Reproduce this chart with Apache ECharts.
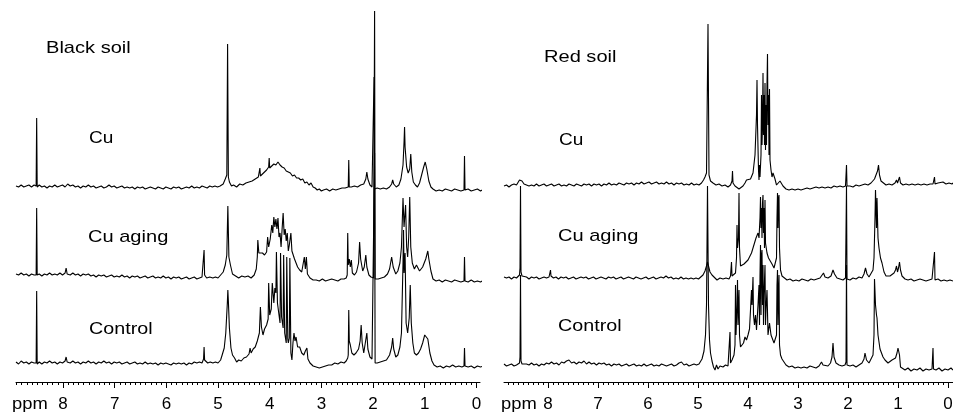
<!DOCTYPE html>
<html>
<head>
<meta charset="utf-8">
<script src="https://cdn.jsdelivr.net/npm/echarts@6/dist/echarts.min.js"></script>
<style>
  html, body { margin: 0; padding: 0; background: #fff; }
  #nmr { width: 953px; height: 416px; }
</style>
</head>
<body>
<div id="nmr"></div>
<script>
// tick labels (ppm)
const majorTicks = [0, 1, 2, 3, 4, 5, 6, 7, 8];

// spectra: [ppm, height above own baseline]
// Black soil
const blackCu = [
  [8.91,1],[8.86,0],[8.81,2],[8.76,0],[8.71,1],[8.66,2],[8.61,0],[8.56,2],[8.52,1],[8.51,69],[8.50,0],[8.46,2],[8.41,0],[8.36,1],[8.31,-1],[8.26,1],[8.21,0],[8.16,2],[8.11,0],[8.06,1],[8.01,2],[7.96,0],[7.91,3],[7.86,1],[7.81,2],[7.76,0],[7.71,1],[7.66,-1],[7.61,1],[7.56,0],[7.51,2],[7.46,0],[7.41,1],[7.36,-1],[7.31,0],[7.26,1],[7.21,-1],[7.16,0],[7.11,2],[7.06,0],[7.01,1],[6.96,-1],[6.91,0],[6.86,1],[6.81,-1],[6.76,0],[6.71,-1],[6.66,0],[6.61,-2],[6.56,0],[6.51,-1],[6.46,0],[6.41,-2],[6.36,-1],[6.31,0],[6.26,-1],[6.21,-2],[6.16,0],[6.11,-1],[6.06,-2],[6.01,0],[5.96,-1],[5.91,-2],[5.86,0],[5.81,-1],[5.76,0],[5.71,-2],[5.66,-1],[5.61,0],[5.56,-1],[5.51,1],[5.46,-1],[5.41,0],[5.36,-1],[5.31,1],[5.26,0],[5.21,-1],[5.16,1],[5.11,0],[5.06,1],[5.01,0],[4.96,1],
  [4.9,3],[4.86,8],[4.83,12],[4.815,143],[4.80,10],[4.78,5],[4.74,1],[4.7,2],[4.64,0],[4.58,3],[4.52,2],[4.46,4],[4.4,5],[4.34,6],[4.28,8],[4.22,10],[4.2,12],[4.19,19],[4.18,11],[4.14,13],[4.1,15],[4.06,17],[4.02,20],[4.01,29],[4.0,19],[3.96,21],[3.92,23],[3.88,22],[3.84,25],[3.8,22],[3.76,20],[3.72,19],[3.68,16],[3.64,15],[3.6,14],[3.56,11],[3.52,12],[3.48,9],[3.44,9],[3.4,7],[3.36,8],[3.32,4],[3.28,5],[3.24,2],[3.2,4],[3.16,0],[3.12,-1],[3.08,-3],[3.04,-2],[3.0,-4],[2.96,-3],[2.9,-2],[2.84,-4],[2.78,-2],[2.72,-3],[2.66,-2],[2.6,-1],[2.54,-1],[2.48,0],[2.47,27],[2.46,0],[2.42,0],[2.36,1],[2.3,0],[2.24,2],[2.18,3],[2.14,8],[2.12,15],[2.10,8],[2.06,2],[2.02,0],[1.99,0],[1.98,110],[1.97,-2],[1.92,-1],[1.86,-2],[1.8,-1],[1.74,-2],[1.68,0],[1.64,3],[1.62,7],[1.6,3],[1.55,0],[1.5,2],[1.46,8],[1.42,22],[1.40,45],[1.39,60],[1.38,40],[1.35,20],[1.32,14],[1.29,18],[1.27,33],[1.25,15],[1.22,5],[1.18,2],[1.14,0],[1.1,4],[1.06,12],[1.02,20],[0.99,25],[0.96,18],[0.92,6],[0.88,0],[0.84,-2],[0.78,-4],[0.72,-3],[0.66,-4],[0.6,-2],[0.54,-3],[0.48,-4],[0.42,-2],[0.36,-3],[0.3,-4],[0.24,-3],[0.23,31],[0.22,-3],[0.16,-2],[0.1,-4],[0.04,-3],[-0.02,-2],[-0.08,-4],[-0.14,-2],[-0.19,-3]
];
const blackCuAging = [
  [8.91,3],[8.86,2],[8.81,4],[8.76,2],[8.71,3],[8.66,1],[8.61,3],[8.56,2],[8.52,2],[8.51,69],[8.50,2],[8.46,3],[8.41,1],[8.36,3],[8.31,2],[8.26,4],[8.21,2],[8.16,3],[8.11,2],[8.06,4],[8.01,2],[7.96,4],[7.94,9],[7.92,3],[7.86,2],[7.81,4],[7.76,2],[7.71,3],[7.66,1],[7.61,3],[7.56,2],[7.51,3],[7.46,1],[7.41,2],[7.36,0],[7.31,2],[7.26,1],[7.21,2],[7.16,0],[7.11,1],[7.06,2],[7.01,0],[6.96,1],[6.91,0],[6.86,2],[6.81,0],[6.76,1],[6.71,-1],[6.66,1],[6.61,0],[6.56,1],[6.51,-1],[6.46,0],[6.41,1],[6.36,-1],[6.31,0],[6.26,1],[6.21,-1],[6.16,0],[6.11,-1],[6.06,1],[6.01,-1],[5.96,0],[5.91,-2],[5.86,0],[5.81,-1],[5.76,0],[5.71,-2],[5.66,-1],[5.61,0],[5.56,-2],[5.51,-1],[5.46,0],[5.41,-2],[5.36,-1],[5.31,0],[5.28,2],[5.27,27],[5.26,2],[5.22,-1],[5.16,0],[5.1,-1],[5.05,0],[5.0,-1],
  [4.95,2],[4.9,5],[4.86,12],[4.83,22],[4.81,71],[4.79,20],[4.76,12],[4.72,3],[4.66,1],[4.6,-1],[4.54,1],[4.48,0],[4.42,1],[4.36,-1],[4.3,2],[4.26,8],[4.24,20],[4.23,37],[4.21,24],[4.18,22],[4.14,24],[4.1,22],[4.06,25],[4.04,40],[4.02,30],[3.99,38],[3.96,52],[3.94,44],[3.92,60],[3.9,50],[3.88,58],[3.86,48],[3.84,59],[3.82,40],[3.80,44],[3.78,30],[3.76,48],[3.74,64],[3.72,42],[3.70,48],[3.68,36],[3.66,44],[3.64,26],[3.62,32],[3.59,44],[3.57,26],[3.55,24],[3.52,18],[3.49,14],[3.46,10],[3.42,7],[3.38,5],[3.35,6],[3.33,20],[3.31,8],[3.29,20],[3.27,3],[3.22,-1],[3.16,-3],[3.1,-3],[3.04,-4],[2.98,-2],[2.92,-4],[2.86,-3],[2.8,-2],[2.74,-3],[2.68,-4],[2.62,-2],[2.56,-2],[2.52,-1],[2.50,2],[2.49,44],[2.48,12],[2.46,18],[2.44,10],[2.42,17],[2.4,4],[2.36,2],[2.32,5],[2.28,14],[2.26,35],[2.24,18],[2.2,6],[2.17,10],[2.14,22],[2.12,10],[2.08,2],[2.04,0],[1.99,-1],[1.97,266],[1.96,-2],[1.9,-2],[1.84,-1],[1.78,0],[1.72,3],[1.68,8],[1.64,20],[1.61,10],[1.56,3],[1.52,6],[1.48,14],[1.45,30],[1.42,79],[1.40,50],[1.37,72],[1.35,30],[1.33,20],[1.31,40],[1.29,80],[1.27,30],[1.24,14],[1.2,8],[1.16,12],[1.13,10],[1.1,6],[1.04,10],[0.98,18],[0.94,26],[0.92,18],[0.88,6],[0.84,-2],[0.78,-4],[0.72,-3],[0.66,-5],[0.6,-3],[0.54,-4],[0.48,-5],[0.42,-3],[0.36,-4],[0.3,-5],[0.24,-4],[0.23,20],[0.22,-4],[0.16,-5],[0.1,-3],[0.04,-5],[-0.02,-4],[-0.08,-5],[-0.14,-3],[-0.19,-5]
];
const blackControl = [
  [8.91,1],[8.86,-1],[8.81,2],[8.76,0],[8.71,1],[8.66,-1],[8.61,1],[8.56,0],[8.52,0],[8.51,72],[8.50,-1],[8.46,1],[8.41,-1],[8.36,1],[8.31,0],[8.26,2],[8.21,0],[8.16,1],[8.11,-1],[8.06,1],[8.01,0],[7.96,2],[7.94,6],[7.92,1],[7.86,0],[7.81,2],[7.76,0],[7.71,1],[7.66,-1],[7.61,1],[7.56,0],[7.51,2],[7.46,0],[7.41,1],[7.36,-1],[7.31,1],[7.26,0],[7.21,2],[7.16,0],[7.11,1],[7.06,-1],[7.01,1],[6.96,0],[6.91,1],[6.86,-1],[6.81,0],[6.76,1],[6.71,-1],[6.66,0],[6.61,1],[6.56,-1],[6.51,0],[6.46,-1],[6.41,1],[6.36,-1],[6.31,0],[6.26,-1],[6.21,0],[6.16,-2],[6.11,0],[6.06,-1],[6.01,0],[5.96,-1],[5.91,-2],[5.86,0],[5.81,-1],[5.76,0],[5.71,-1],[5.66,0],[5.61,-2],[5.56,0],[5.51,-1],[5.46,1],[5.41,0],[5.36,1],[5.31,0],[5.28,4],[5.27,16],[5.26,3],[5.2,0],[5.15,1],[5.1,0],[5.05,1],[5.0,0],
  [4.95,3],[4.92,8],[4.88,15],[4.85,30],[4.82,60],[4.81,73],[4.80,62],[4.78,35],[4.75,15],[4.72,8],[4.68,5],[4.64,1],[4.6,3],[4.55,2],[4.5,5],[4.45,6],[4.4,9],[4.38,15],[4.36,10],[4.32,14],[4.28,16],[4.24,22],[4.2,30],[4.18,56],[4.16,36],[4.13,28],[4.1,34],[4.06,38],[4.03,44],[4.02,80],[4.0,48],[3.97,54],[3.95,80],[3.92,60],[3.9,75],[3.88,70],[3.87,111],[3.85,60],[3.82,62],[3.80,40],[3.79,110],[3.77,46],[3.76,46],[3.74,35],[3.73,108],[3.71,30],[3.70,30],[3.68,20],[3.67,106],[3.65,24],[3.64,20],[3.62,25],[3.61,105],[3.59,10],[3.57,3],[3.55,20],[3.53,30],[3.51,22],[3.49,26],[3.46,16],[3.42,16],[3.38,10],[3.34,8],[3.31,12],[3.28,15],[3.26,4],[3.22,0],[3.16,-3],[3.1,-4],[3.04,-5],[2.98,-4],[2.92,-3],[2.86,-2],[2.8,-2],[2.74,0],[2.68,-1],[2.62,1],[2.56,0],[2.52,2],[2.49,5],[2.48,8],[2.47,53],[2.46,22],[2.44,18],[2.41,10],[2.37,8],[2.33,10],[2.28,14],[2.25,22],[2.23,38],[2.21,20],[2.18,10],[2.15,12],[2.12,30],[2.10,14],[2.06,6],[2.02,4],[1.99,3],[1.97,210],[1.96,0],[1.92,0],[1.86,1],[1.8,2],[1.74,3],[1.68,8],[1.64,16],[1.62,25],[1.6,14],[1.56,6],[1.52,8],[1.48,16],[1.45,30],[1.42,100],[1.41,133],[1.40,90],[1.38,110],[1.36,40],[1.33,30],[1.30,45],[1.28,78],[1.26,40],[1.23,20],[1.2,10],[1.16,8],[1.12,10],[1.08,14],[1.04,20],[1.0,28],[0.97,30],[0.94,24],[0.9,10],[0.86,2],[0.82,-2],[0.76,-4],[0.7,-3],[0.64,-5],[0.58,-3],[0.52,-4],[0.46,-2],[0.4,-4],[0.34,-3],[0.28,-4],[0.24,-3],[0.23,15],[0.22,-3],[0.16,-4],[0.1,-3],[0.04,-5],[-0.02,-3],[-0.08,-4],[-0.14,-3],[-0.19,-4]
];

// Red soil
const redCu = [
  [8.88,-1],[8.83,0],[8.78,-2],[8.73,0],[8.68,1],[8.63,0],[8.59,2],[8.57,5],[8.55,7],[8.52,4],[8.48,1],[8.43,0],[8.38,-1],[8.33,0],[8.28,-1],[8.23,1],[8.18,-1],[8.13,0],[8.08,1],[8.03,-1],[7.98,0],[7.93,1],[7.88,-1],[7.83,0],[7.78,1],[7.73,-1],[7.68,0],[7.63,-1],[7.58,1],[7.53,0],[7.48,-1],[7.43,1],[7.38,0],[7.33,-1],[7.28,1],[7.23,0],[7.18,1],[7.13,-1],[7.08,1],[7.03,0],[6.98,1],[6.93,-1],[6.88,1],[6.83,0],[6.78,2],[6.73,0],[6.68,1],[6.63,0],[6.58,2],[6.53,1],[6.48,0],[6.43,2],[6.38,1],[6.33,2],[6.28,0],[6.23,2],[6.18,1],[6.13,3],[6.08,1],[6.03,2],[5.98,3],[5.93,1],[5.88,2],[5.83,3],[5.78,1],[5.73,2],[5.68,1],[5.63,3],[5.58,1],[5.53,2],[5.48,0],[5.43,2],[5.38,1],[5.33,2],[5.28,0],[5.23,1],[5.18,0],[5.13,2],[5.08,0],[5.03,1],[4.98,0],
  [4.93,2],[4.89,5],[4.86,8],[4.83,12],[4.80,161],[4.78,10],[4.75,4],[4.7,2],[4.64,0],[4.58,1],[4.52,-1],[4.46,0],[4.4,-2],[4.35,0],[4.32,4],[4.31,14],[4.30,2],[4.26,-1],[4.22,-3],[4.18,-4],[4.14,-3],[4.1,-1],[4.06,2],[4.03,5],[3.99,3],[3.95,6],[3.9,12],[3.86,30],[3.83,70],[3.82,105],[3.81,60],[3.79,15],[3.78,5],[3.77,20],[3.76,8],[3.74,30],[3.73,90],[3.72,40],[3.71,60],[3.70,112],[3.69,50],[3.68,90],[3.67,40],[3.66,102],[3.65,35],[3.64,80],[3.63,40],[3.62,100],[3.61,131],[3.60,60],[3.59,90],[3.58,30],[3.57,96],[3.56,25],[3.54,15],[3.52,8],[3.50,12],[3.48,10],[3.46,6],[3.43,0],[3.40,2],[3.36,4],[3.33,5],[3.3,-1],[3.24,-4],[3.18,-5],[3.12,-4],[3.06,-5],[3.0,-4],[2.94,-5],[2.88,-4],[2.82,-3],[2.76,-4],[2.7,-3],[2.64,-2],[2.58,-3],[2.52,-2],[2.46,-3],[2.4,-2],[2.34,-3],[2.28,-1],[2.22,-2],[2.16,-1],[2.1,-2],[2.05,-1],[2.04,0],[2.03,20],[2.02,-1],[1.96,-1],[1.9,-2],[1.84,0],[1.78,-1],[1.72,0],[1.66,1],[1.6,0],[1.54,2],[1.5,4],[1.47,6],[1.44,10],[1.41,14],[1.39,20],[1.37,10],[1.34,4],[1.3,2],[1.24,0],[1.18,1],[1.12,0],[1.06,2],[1.03,5],[1.01,2],[0.98,3],[0.97,8],[0.95,2],[0.9,0],[0.84,1],[0.78,0],[0.72,1],[0.66,0],[0.6,1],[0.54,0],[0.48,1],[0.42,0],[0.36,1],[0.3,1],[0.28,2],[0.27,8],[0.26,1],[0.2,2],[0.16,1],[0.1,3],[0.04,1],[-0.02,2],[-0.08,1],[-0.1,2]
];
const redCuAging = [
  [8.88,1],[8.83,0],[8.78,1],[8.73,-1],[8.68,1],[8.63,0],[8.59,1],[8.57,3],[8.56,10],[8.55,92],[8.54,6],[8.52,2],[8.48,0],[8.43,1],[8.38,-1],[8.33,1],[8.28,0],[8.23,1],[8.18,-1],[8.13,0],[8.08,1],[8.03,0],[7.98,1],[7.96,3],[7.95,8],[7.94,2],[7.89,0],[7.84,1],[7.79,-1],[7.74,1],[7.69,0],[7.64,1],[7.59,-1],[7.54,0],[7.49,1],[7.44,-1],[7.39,0],[7.34,1],[7.29,0],[7.24,1],[7.19,-1],[7.14,0],[7.09,1],[7.04,-1],[6.99,0],[6.94,1],[6.89,0],[6.84,-1],[6.79,1],[6.74,0],[6.69,1],[6.64,-1],[6.59,0],[6.54,1],[6.49,-1],[6.44,0],[6.39,1],[6.34,0],[6.29,-1],[6.24,1],[6.19,0],[6.14,-1],[6.09,0],[6.04,1],[5.99,-1],[5.94,0],[5.89,1],[5.84,-1],[5.79,0],[5.74,1],[5.69,0],[5.64,2],[5.59,0],[5.54,1],[5.49,-1],[5.44,0],[5.39,-1],[5.34,1],[5.29,-1],[5.24,0],[5.19,-1],[5.14,0],[5.09,-1],[5.04,0],[4.99,-1],
  [4.95,0],[4.9,3],[4.86,7],[4.83,12],[4.81,16],[4.79,12],[4.76,6],[4.72,3],[4.68,1],[4.62,-2],[4.56,0],[4.5,-1],[4.44,0],[4.38,-1],[4.35,2],[4.33,16],[4.32,2],[4.28,0],[4.25,5],[4.23,20],[4.22,53],[4.21,30],[4.19,40],[4.18,85],[4.17,30],[4.15,12],[4.12,10],[4.08,14],[4.04,15],[4.0,18],[3.96,22],[3.93,25],[3.9,30],[3.87,35],[3.84,40],[3.82,38],[3.80,45],[3.78,40],[3.76,60],[3.75,81],[3.74,50],[3.73,70],[3.72,40],[3.71,75],[3.70,83],[3.69,45],[3.68,70],[3.67,30],[3.66,78],[3.65,35],[3.62,25],[3.59,20],[3.56,22],[3.52,14],[3.48,10],[3.45,12],[3.43,20],[3.42,60],[3.41,85],[3.40,50],[3.39,80],[3.38,83],[3.37,30],[3.35,8],[3.32,2],[3.28,0],[3.22,-2],[3.16,-1],[3.1,-3],[3.04,-2],[2.98,-3],[2.92,-1],[2.86,-2],[2.8,-3],[2.74,-1],[2.68,-2],[2.62,-1],[2.56,0],[2.52,2],[2.49,5],[2.46,1],[2.4,0],[2.34,2],[2.3,8],[2.27,4],[2.22,0],[2.16,-1],[2.1,-2],[2.05,0],[2.04,2],[2.03,92],[2.02,-1],[1.96,-2],[1.9,0],[1.84,-1],[1.78,1],[1.72,0],[1.68,4],[1.65,10],[1.62,4],[1.58,1],[1.54,3],[1.5,8],[1.48,20],[1.46,60],[1.45,88],[1.43,50],[1.42,80],[1.40,40],[1.38,30],[1.35,20],[1.32,15],[1.31,16],[1.28,6],[1.24,2],[1.2,0],[1.16,2],[1.12,4],[1.08,5],[1.05,8],[1.03,12],[1.01,6],[0.99,10],[0.97,16],[0.95,8],[0.92,2],[0.86,-1],[0.8,-2],[0.74,-1],[0.68,-3],[0.62,-2],[0.56,-1],[0.5,-2],[0.44,-3],[0.38,-2],[0.32,-1],[0.28,-2],[0.27,26],[0.26,-2],[0.2,-1],[0.14,-3],[0.08,-2],[0.02,-3],[-0.04,-2],[-0.1,-3]
];
const redControl = [
  [8.88,1],[8.83,-1],[8.78,0],[8.73,1],[8.68,-1],[8.63,0],[8.59,1],[8.57,2],[8.56,8],[8.55,90],[8.54,4],[8.52,1],[8.48,-1],[8.43,1],[8.38,0],[8.33,2],[8.28,0],[8.23,1],[8.18,-1],[8.13,1],[8.08,0],[8.03,2],[7.98,1],[7.93,3],[7.88,1],[7.83,2],[7.78,0],[7.73,3],[7.68,2],[7.63,4],[7.58,5],[7.53,2],[7.48,3],[7.43,1],[7.38,3],[7.33,2],[7.28,4],[7.23,1],[7.18,3],[7.13,1],[7.08,2],[7.03,0],[6.98,2],[6.93,1],[6.88,2],[6.83,0],[6.78,1],[6.73,-1],[6.68,1],[6.63,0],[6.58,1],[6.53,-1],[6.48,0],[6.43,1],[6.38,-1],[6.33,0],[6.28,1],[6.23,-1],[6.18,0],[6.13,-1],[6.08,1],[6.03,-1],[5.98,0],[5.93,1],[5.88,-1],[5.83,0],[5.78,-1],[5.73,1],[5.68,0],[5.63,-1],[5.58,0],[5.53,1],[5.48,-1],[5.43,0],[5.38,2],[5.33,3],[5.28,0],[5.23,1],[5.18,-1],[5.13,0],[5.08,1],[5.03,0],
  [4.98,1],[4.95,2],[4.92,6],[4.88,14],[4.85,30],[4.83,60],[4.81,179],[4.79,60],[4.77,25],[4.75,12],[4.72,4],[4.69,-2],[4.66,-5],[4.63,0],[4.6,-4],[4.56,-1],[4.5,-2],[4.45,0],[4.4,-1],[4.37,1],[4.36,33],[4.35,2],[4.32,5],[4.28,10],[4.26,20],[4.25,80],[4.24,30],[4.22,60],[4.21,85],[4.20,40],[4.18,75],[4.17,30],[4.15,18],[4.12,20],[4.09,22],[4.06,28],[4.03,25],[4.0,30],[3.97,36],[3.95,55],[3.93,75],[3.92,60],[3.90,88],[3.89,50],[3.87,40],[3.85,50],[3.83,35],[3.80,60],[3.78,80],[3.77,40],[3.76,90],[3.75,120],[3.74,50],[3.73,110],[3.72,115],[3.71,60],[3.70,100],[3.69,40],[3.68,70],[3.66,100],[3.65,40],[3.64,55],[3.62,75],[3.60,30],[3.57,42],[3.54,30],[3.51,26],[3.48,22],[3.45,20],[3.43,30],[3.42,80],[3.41,95],[3.40,40],[3.39,75],[3.38,90],[3.37,20],[3.35,10],[3.32,6],[3.28,3],[3.24,0],[3.18,-2],[3.12,-1],[3.06,-3],[3.0,-2],[2.94,-3],[2.88,-2],[2.82,-3],[2.76,-1],[2.7,-2],[2.64,-3],[2.58,-1],[2.53,3],[2.5,0],[2.46,-2],[2.4,-1],[2.35,2],[2.32,8],[2.30,22],[2.28,8],[2.24,2],[2.18,0],[2.12,-1],[2.06,0],[2.04,3],[2.03,100],[2.02,0],[1.96,-1],[1.9,0],[1.84,-2],[1.78,0],[1.72,2],[1.68,6],[1.66,12],[1.63,5],[1.58,2],[1.54,4],[1.5,10],[1.48,30],[1.47,86],[1.45,60],[1.43,50],[1.42,47],[1.40,30],[1.39,28],[1.36,16],[1.33,15],[1.30,8],[1.26,5],[1.2,2],[1.16,3],[1.12,5],[1.08,6],[1.05,7],[1.02,12],[1.0,17],[0.99,18],[0.97,10],[0.95,-2],[0.92,-4],[0.86,-5],[0.8,-3],[0.74,-6],[0.68,-4],[0.62,-5],[0.56,-3],[0.5,-6],[0.44,-4],[0.38,-5],[0.32,-4],[0.31,-2],[0.30,17],[0.29,-4],[0.24,-5],[0.18,-3],[0.12,-6],[0.06,-4],[0.0,-5],[-0.06,-3],[-0.1,-5]
];

// vertical stacking of the traces (y units, bottom axis = 0)
const blackOffsets = [195, 105, 19];
const redOffsets = [197, 104, 17];

const FONT = 'Liberation Sans, Arial, Helvetica, sans-serif';

// 0.1 ppm minor tick positions
const minorTicks = [];
for (let i = 0; i <= 89; i++) minorTicks.push(i / 10);

function shift(arr, off) {
    return arr.map(p => [p[0], p[1] + off]);
}

const chart = echarts.init(document.getElementById('nmr'), null, { renderer: 'canvas' });

const xBase = {
    type: 'value',
    inverse: true,
    position: 'bottom',
    splitLine: { show: false },
    axisLine: { show: true, onZero: false, lineStyle: { color: '#000', width: 1 } },
};

function minorAxis(grid, min, max) {
    return Object.assign({}, xBase, {
        gridIndex: grid, min: min, max: max,
        axisTick: { show: true, length: 3, customValues: minorTicks, lineStyle: { color: '#000' } },
        axisLabel: { show: false }
    });
}
function majorAxis(grid, min, max) {
    return Object.assign({}, xBase, {
        gridIndex: grid, min: min, max: max,
        axisLine: { show: false },
        axisTick: { show: true, length: 6, customValues: majorTicks, lineStyle: { color: '#000' } },
        axisLabel: { show: true, customValues: majorTicks, margin: 14, color: '#000', fontSize: 17, fontFamily: FONT }
    });
}
function hiddenY(grid, max) {
    return { type: 'value', gridIndex: grid, min: 0, max: max, show: false };
}
function trace(data, off, axisIdx) {
    return {
        type: 'line',
        xAxisIndex: axisIdx, yAxisIndex: axisIdx,
        data: shift(data, off),
        showSymbol: false,
        clip: false,
        silent: true,
        lineStyle: { color: '#000', width: 1.1 }
    };
}

// [text, x, y, horizontal stretch]
const labels = [
    ['Black soil', 46, 48, 1.18], ['Cu', 89, 138, 1.12], ['Cu aging', 88, 237, 1.18], ['Control', 89, 329, 1.16],
    ['Red soil', 544, 57, 1.18], ['Cu', 559, 140, 1.12], ['Cu aging', 558, 236, 1.18], ['Control', 558, 326, 1.16],
    ['ppm', 12, 404, 1.08], ['ppm', 501, 404, 1.08]
];

const gridBox = [
    { left: 16, width: 464, top: 0, bottom: 34, outerBoundsMode: 'none' },
    { left: 504, width: 449, top: 0, bottom: 34, outerBoundsMode: 'none' }
];

chart.setOption({
    animation: false,
    backgroundColor: '#fff',
    grid: [gridBox[0], gridBox[1], gridBox[0], gridBox[1]].map(g => Object.assign({}, g)),
    xAxis: [
        minorAxis(0, -0.07, 8.91),
        minorAxis(1, -0.1, 8.88),
        majorAxis(2, -0.07, 8.91),
        majorAxis(3, -0.1, 8.88)
    ],
    yAxis: [hiddenY(0, 382), hiddenY(1, 382), hiddenY(2, 1), hiddenY(3, 1)],
    graphic: labels.map(l => ({
        type: 'text', x: l[1], y: l[2], scaleX: l[3], silent: true,
        style: { text: l[0], fill: '#000', fontSize: 17, fontFamily: FONT, verticalAlign: 'middle' }
    })),
    series: [
        trace(blackCu, blackOffsets[0], 0),
        trace(blackCuAging, blackOffsets[1], 0),
        trace(blackControl, blackOffsets[2], 0),
        trace(redCu, redOffsets[0], 1),
        trace(redCuAging, redOffsets[1], 1),
        trace(redControl, redOffsets[2], 1)
    ]
});
</script>
</body>
</html>
